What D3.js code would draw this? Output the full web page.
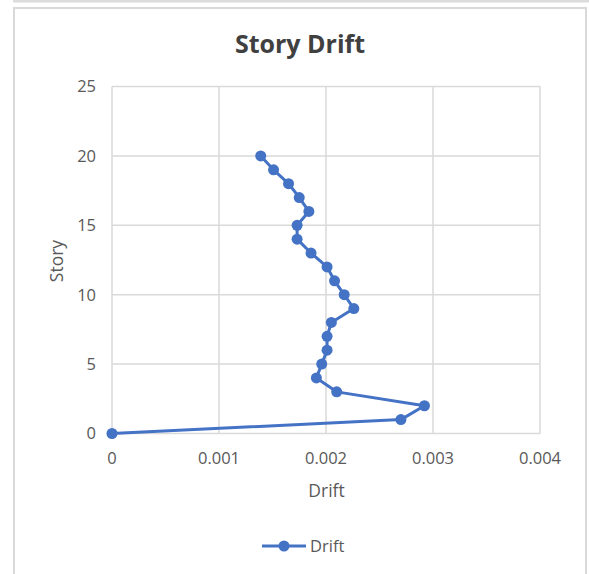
<!DOCTYPE html>
<html><head><meta charset="utf-8">
<script src="https://cdn.jsdelivr.net/npm/d3@7"></script>
<style>
html,body{margin:0;padding:0;background:#fff;}
text{font-family:"Open Sans",sans-serif;}
</style></head>
<body>
<svg id="c" width="589" height="574"></svg>
<script>
const stories = [0,1,2,3,4,5,6,7,8,9,10,11,12,13,14,15,16,17,18,19,20];
const drift = [0,0.00270,0.00292,0.00210,0.00191,0.00196,0.00201,0.00201,0.00205,0.00226,0.00217,0.00208,0.00201,0.00186,0.00173,0.00173,0.00184,0.00175,0.00165,0.00151,0.00139];
const xTicks = [0,0.001,0.002,0.003,0.004];
const yTicks = [0,5,10,15,20,25];
const xTickLabels = ["0","0.001","0.002","0.003","0.004"];
const title = "Story Drift";
const xTitle = "Drift";
const yTitle = "Story";
const seriesName = "Drift";

const svg = d3.select("#c");
const color = "#4472C4";
const grid = "#d9d9d9";
const txt = "#595959";

// frame
svg.append("rect").attr("x",13).attr("y",0).attr("width",576).attr("height",2.5).attr("fill","#dcdcdc");
svg.append("rect").attr("x",14).attr("y",8).attr("width",572).attr("height",580)
  .attr("fill","#fff").attr("stroke","#d9d9d9").attr("stroke-width",2);

const x = d3.scaleLinear().domain([0,0.004]).range([112,540]);
const y = d3.scaleLinear().domain([0,25]).range([433.5,86.5]);

const g = svg.append("g");
// gridlines
g.selectAll(".vg").data(xTicks).join("line")
  .attr("x1",d=>x(d)).attr("x2",d=>x(d)).attr("y1",y(25)).attr("y2",y(0))
  .attr("stroke",grid).attr("stroke-width",1.5);
g.selectAll(".hg").data(yTicks).join("line")
  .attr("y1",d=>y(d)).attr("y2",d=>y(d)).attr("x1",x(0)).attr("x2",x(0.004))
  .attr("stroke",grid).attr("stroke-width",1.5);

// tick labels
g.selectAll(".xl").data(xTicks).join("text")
  .attr("x",d=>x(d)).attr("y",463.5).attr("text-anchor","middle")
  .attr("font-size",16.5).attr("fill",txt).text((d,i)=>xTickLabels[i]);
g.selectAll(".yl").data(yTicks).join("text")
  .attr("x",96).attr("y",d=>y(d)+5.8).attr("text-anchor","end")
  .attr("font-size",16.5).attr("fill",txt).text(d=>d);

// titles
svg.append("text").attr("x",300).attr("y",52.5).attr("text-anchor","middle")
  .attr("font-size",25).attr("font-weight",700).attr("fill","#404040").text(title);
svg.append("text").attr("x",326.5).attr("y",497).attr("text-anchor","middle")
  .attr("font-size",17.5).attr("fill",txt).text(xTitle);
svg.append("text").attr("transform","translate(63,261) rotate(-90)").attr("text-anchor","middle")
  .attr("font-size",17.5).attr("fill",txt).text(yTitle);

// series
const data = stories.map((s,i)=>({s, d:drift[i]}));
const line = d3.line().x(p=>x(p.d)).y(p=>y(p.s));
g.append("path").datum(data).attr("d",line).attr("fill","none")
  .attr("stroke",color).attr("stroke-width",3).attr("stroke-linejoin","round");
g.selectAll(".pt").data(data).join("circle")
  .attr("cx",p=>x(p.d)).attr("cy",p=>y(p.s)).attr("r",5.5).attr("fill",color);

// legend
const lg = svg.append("g");
lg.append("line").attr("x1",262).attr("x2",306).attr("y1",546).attr("y2",546)
  .attr("stroke",color).attr("stroke-width",3);
lg.append("circle").attr("cx",284).attr("cy",546).attr("r",5.5).attr("fill",color);
lg.append("text").attr("x",310).attr("y",552).attr("font-size",16.5).attr("fill",txt).text(seriesName);
</script>
</body></html>
